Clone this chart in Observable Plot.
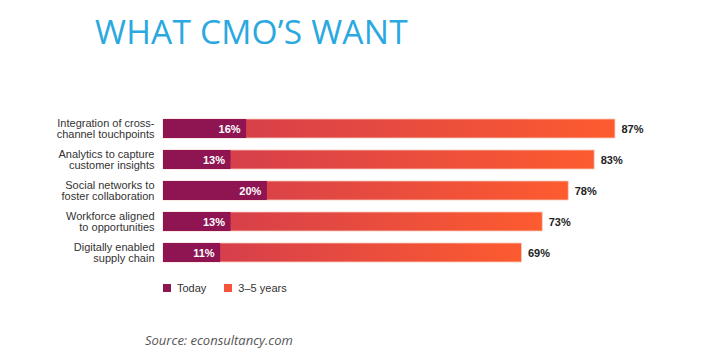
<!DOCTYPE html>
<html>
<head>
<meta charset="utf-8">
<script src="https://cdn.jsdelivr.net/npm/d3@7"></script>
<script src="https://cdn.jsdelivr.net/npm/@observablehq/plot@0.6"></script>
<style>
  html, body { margin: 0; padding: 0; background: #ffffff; }
  #wrap { position: relative; width: 717px; height: 364px; overflow: hidden; background: #fff; }
  #title { position: absolute; left: 95px; top: 8px; font-family: "Open Sans", sans-serif; font-size: 33.5px; color: #2aa8e0; letter-spacing: 0.2px; white-space: nowrap; }
  #chart { position: absolute; left: 0; top: 96px; }
  #legend { position: absolute; left: 163px; top: 282px; font-family: "Liberation Sans", Arial, sans-serif; font-size: 11px; color: #333; display: flex; gap: 0; white-space: nowrap; }
  #legend span.item { display: inline-flex; align-items: center; margin-right: 18px; }
  #legend i { display: inline-block; width: 8px; height: 8px; margin-right: 6px; }
  #source { position: absolute; left: 145px; top: 331px; font-family: "Open Sans", sans-serif; font-style: italic; font-size: 13px; color: #555; white-space: nowrap; }
</style>
</head>
<body>
<div id="wrap">
  <div id="title">WHAT CMO’S WANT</div>
  <div id="chart"></div>
  <div id="legend"></div>
  <div id="source">Source: econsultancy.com</div>
</div>
<script>
const categories = [
  "Integration of cross-\nchannel touchpoints",
  "Analytics to capture\ncustomer insights",
  "Social networks to\nfoster collaboration",
  "Workforce aligned\nto opportunities",
  "Digitally enabled\nsupply chain"
];
const today = [16, 13, 20, 13, 11];
const future = [87, 83, 78, 73, 69];
const seriesNames = ["Today", "3–5 years"];
const seriesColors = ["#8e1552", "#f4553a"];

const rows = categories.map((c, i) => ({category: c, today: today[i], future: future[i]}));

const plot = Plot.plot({
  width: 717,
  height: 190,
  marginTop: 10,
  marginBottom: 10,
  marginLeft: 163,
  marginRight: 34.5,
  x: {domain: [0, 100], axis: null},
  y: {domain: categories, axis: null, padding: 0.38},
  style: {fontFamily: "'Liberation Sans', Arial, sans-serif", background: "transparent"},
  marks: [
    Plot.barX(rows, {y: "category", x1: 0, x2: "future", fill: "url(#futureGrad)", stroke: "#f7cbbb", strokeWidth: 0.8}),
    Plot.barX(rows, {y: "category", x1: 0, x2: "today", fill: seriesColors[0]}),
    Plot.text(rows, {y: "category", x: "today", text: d => d.today + "%", textAnchor: "end", dx: -6, fill: "#fff", fontWeight: "bold", fontSize: 11}),
    Plot.text(rows, {y: "category", x: "future", text: d => d.future + "%", textAnchor: "start", dx: 6, fill: "#222", fontWeight: "bold", fontSize: 11}),
    Plot.text(rows, {y: "category", x: 0, text: "category", textAnchor: "end", dx: -9, fill: "#333", fontSize: 11, lineHeight: 1})
  ]
});

// gradient definition for the 3–5 years bars
const ns = "http://www.w3.org/2000/svg";
const defs = document.createElementNS(ns, "defs");
const lg = document.createElementNS(ns, "linearGradient");
lg.setAttribute("id", "futureGrad");
lg.setAttribute("x1", "0"); lg.setAttribute("x2", "1"); lg.setAttribute("y1", "0"); lg.setAttribute("y2", "0");
[["0%", "#cf3a50"], ["100%", "#fd5b2f"]].forEach(([o, c]) => {
  const s = document.createElementNS(ns, "stop");
  s.setAttribute("offset", o); s.setAttribute("stop-color", c);
  lg.appendChild(s);
});
defs.appendChild(lg);
plot.insertBefore(defs, plot.firstChild);
document.getElementById("chart").appendChild(plot);

const legend = document.getElementById("legend");
seriesNames.forEach((n, i) => {
  const it = document.createElement("span");
  it.className = "item";
  const sw = document.createElement("i");
  sw.style.background = seriesColors[i];
  it.appendChild(sw);
  it.appendChild(document.createTextNode(n));
  legend.appendChild(it);
});
</script>
</body>
</html>
